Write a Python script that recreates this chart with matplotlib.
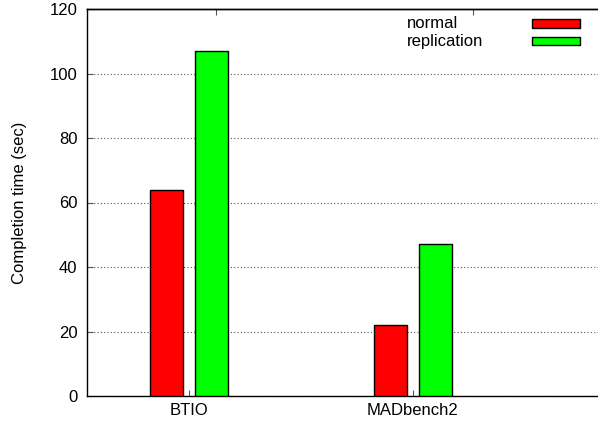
import numpy as np
import matplotlib.pyplot as plt
from matplotlib.patches import Rectangle

plt.rcParams['font.family'] = ['Liberation Sans', 'DejaVu Sans']
plt.rcParams['font.size'] = 12

# Data
benchmarks = ['BTIO', 'MADbench2']
series = ['normal', 'replication']
normal = [64, 22]
replication = [107, 47]
colors = ['#ff0000', '#00ff00']

fig = plt.figure(figsize=(5.98, 4.25), dpi=100)
ax = fig.add_axes([87 / 598, 1 - 396 / 425, 1 - 87 / 598, 387 / 425])

x = np.arange(len(benchmarks))
w = 0.148
ax.bar(x - 0.1, normal, w, color=colors[0], edgecolor='black', linewidth=1, zorder=3)
ax.bar(x + 0.1, replication, w, color=colors[1], edgecolor='black', linewidth=1, zorder=3)

ax.set_xlim(-0.4554, 1.826)
ax.set_ylim(0, 120)
ax.set_yticks(np.arange(0, 121, 20))
ax.set_xticks(x)
ax.set_xticklabels(benchmarks)
ax.tick_params(direction='in', length=4, width=0.8, color='#555555', pad=7)
ax.tick_params(axis='x', pad=5)
ax.grid(axis='y', linestyle=(0, (1, 2)), color='#555555', linewidth=0.8, zorder=0)
ax.spines['right'].set_visible(False)
for s in ['left', 'top', 'bottom']:
    ax.spines[s].set_linewidth(1)
ax.set_ylabel('Completion time (sec)', labelpad=16)

# top mirror ticks
top = ax.secondary_xaxis('top')
top.set_xticks([0.119, 1.266])
top.set_xticklabels(['', ''])
top.tick_params(direction='in', length=4, width=0.8, color='#555555')
top.spines['top'].set_linewidth(1)

# legend, gnuplot style
for i, (name, c) in enumerate(zip(series, colors)):
    yc = 0.963 - i * 0.046
    ax.text(0.626, yc, name, transform=ax.transAxes, va='center', ha='left')
    ax.add_patch(Rectangle((0.871, yc - 0.011), 0.094, 0.022, transform=ax.transAxes,
                           facecolor=c, edgecolor='black', linewidth=1, zorder=4))

fig.savefig('out.png', dpi=100)
